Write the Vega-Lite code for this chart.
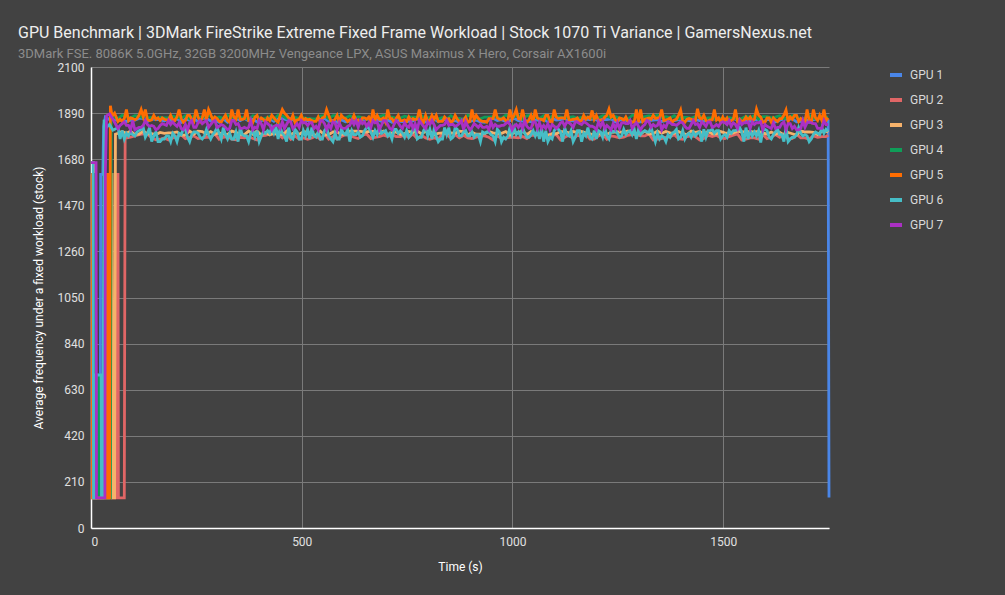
{
"$schema":"https://vega.github.io/schema/vega-lite/v6.json",
"width":738,"height":461,
"autosize":{"type":"none"},
"padding":{"left":91,"top":67,"right":176,"bottom":67},
"background":"#424242",
"title":{"text":"GPU Benchmark | 3DMark FireStrike Extreme Fixed Frame Workload | Stock 1070 Ti Variance | GamersNexus.net","subtitle":"3DMark FSE. 8086K 5.0GHz, 32GB 3200MHz Vengeance LPX, ASUS Maximus X Hero, Corsair AX1600i","anchor":"start","frame":"group","dx":-73,"offset":0,"font":"Roboto","fontSize":16,"fontWeight":"normal","color":"#eeeeee","subtitleFont":"Roboto","subtitleFontSize":13,"subtitleColor":"#8c8c8c","subtitlePadding":7},
"config":{"view":{"stroke":null},"font":"Roboto"},
"data":{"values":[
{"t":0,"g1":1611,"g2":1611,"g3":1664,"g4":1611,"g5":1611,"g6":1664,"g7":1664},
{"t":2,"g2":1611},
{"t":3,"g2":137,"g5":1611},
{"t":4,"g1":1611,"g5":137},
{"t":5,"g1":137,"g6":1664},
{"t":6,"g3":1664,"g6":137},
{"t":7,"g3":137},
{"t":9,"g4":1611},
{"t":10,"g4":697},
{"t":11,"g6":137},
{"t":12,"g6":697,"g7":1664},
{"t":13,"g7":137},
{"t":18,"g4":697},
{"t":19,"g4":137},
{"t":22,"g1":137},
{"t":23,"g1":1611},
{"t":24,"g6":697},
{"t":25,"g6":137},
{"t":28,"g1":1611,"g6":137},
{"t":30,"g1":1830},
{"t":31,"g6":1860},
{"t":33,"g7":137},
{"t":34,"g1":1872,"g7":1611},
{"t":36,"g5":137,"g6":1824},
{"t":37,"g5":1611,"g7":1878},
{"t":40,"g5":1611},
{"t":41,"g5":137},
{"t":42,"g3":137},
{"t":43,"g3":1611},
{"t":44,"g1":1860,"g5":137,"g6":1838,"g7":1886},
{"t":46,"g4":137,"g5":1924},
{"t":48,"g4":1892},
{"t":50,"g3":1611,"g5":1876},
{"t":51,"g3":137},
{"t":52,"g1":1866,"g4":1874,"g6":1812,"g7":1862},
{"t":56,"g3":137,"g5":1890},
{"t":58,"g3":1794},
{"t":60,"g2":137},
{"t":61,"g2":1611},
{"t":65,"g2":137},
{"t":79,"g2":137},
{"t":81,"g2":1782},
{"t":64,"g1":1856,"g2":1611,"g3":1798,"g4":1864,"g5":1852,"g6":1824,"g7":1820},
{"t":69,"g5":1862,"g6":1772,"g7":1834},
{"t":74,"g1":1858,"g2":137,"g3":1806,"g4":1880,"g5":1852,"g6":1810,"g7":1842},
{"t":79,"g5":1865,"g6":1772,"g7":1850},
{"t":84,"g1":1852,"g2":1777,"g3":1798,"g4":1874,"g5":1906,"g6":1798,"g7":1834},
{"t":89,"g5":1856,"g6":1786,"g7":1834},
{"t":94,"g1":1858,"g2":1780,"g3":1808,"g4":1868,"g5":1868,"g6":1804,"g7":1814},
{"t":99,"g5":1865,"g6":1792,"g7":1856},
{"t":104,"g1":1858,"g2":1786,"g3":1792,"g4":1878,"g5":1859,"g6":1786,"g7":1814},
{"t":109,"g5":1865,"g6":1804,"g7":1820},
{"t":114,"g1":1866,"g2":1792,"g3":1794,"g4":1876,"g5":1880,"g6":1810,"g7":1825},
{"t":119,"g5":1906,"g6":1816,"g7":1825},
{"t":124,"g1":1866,"g2":1795,"g3":1808,"g4":1868,"g5":1872,"g6":1824,"g7":1834},
{"t":129,"g5":1906,"g6":1780,"g7":1856},
{"t":134,"g1":1852,"g2":1795,"g3":1796,"g4":1868,"g5":1859,"g6":1798,"g7":1838},
{"t":139,"g5":1856,"g6":1824,"g7":1830},
{"t":144,"g1":1864,"g2":1777,"g3":1796,"g4":1870,"g5":1859,"g6":1760,"g7":1834},
{"t":149,"g5":1880,"g6":1786,"g7":1830},
{"t":154,"g1":1860,"g2":1768,"g3":1792,"g4":1866,"g5":1862,"g6":1804,"g7":1814},
{"t":159,"g5":1868,"g6":1760,"g7":1820},
{"t":164,"g1":1860,"g2":1771,"g3":1802,"g4":1870,"g5":1856,"g6":1760,"g7":1834},
{"t":169,"g5":1868,"g6":1772,"g7":1842},
{"t":174,"g1":1854,"g2":1777,"g3":1798,"g4":1868,"g5":1862,"g6":1772,"g7":1838},
{"t":179,"g5":1859,"g6":1786,"g7":1834},
{"t":184,"g1":1864,"g2":1768,"g3":1800,"g4":1868,"g5":1859,"g6":1786,"g7":1856},
{"t":189,"g5":1880,"g6":1760,"g7":1838},
{"t":194,"g1":1852,"g2":1777,"g3":1800,"g4":1876,"g5":1859,"g6":1798,"g7":1850},
{"t":199,"g5":1856,"g6":1786,"g7":1838},
{"t":204,"g1":1866,"g2":1783,"g3":1804,"g4":1872,"g5":1872,"g6":1760,"g7":1830},
{"t":209,"g5":1906,"g6":1798,"g7":1846},
{"t":214,"g1":1848,"g2":1792,"g3":1790,"g4":1866,"g5":1865,"g6":1792,"g7":1820},
{"t":219,"g5":1848,"g6":1816,"g7":1814},
{"t":224,"g1":1864,"g2":1774,"g3":1790,"g4":1878,"g5":1856,"g6":1816,"g7":1838},
{"t":229,"g5":1880,"g6":1780,"g7":1814},
{"t":234,"g1":1856,"g2":1780,"g3":1808,"g4":1864,"g5":1880,"g6":1760,"g7":1846},
{"t":239,"g5":1862,"g6":1792,"g7":1856},
{"t":244,"g1":1866,"g2":1786,"g3":1794,"g4":1876,"g5":1852,"g6":1804,"g7":1825},
{"t":249,"g5":1906,"g6":1804,"g7":1825},
{"t":254,"g1":1850,"g2":1774,"g3":1808,"g4":1874,"g5":1872,"g6":1798,"g7":1846},
{"t":259,"g5":1852,"g6":1780,"g7":1856},
{"t":264,"g1":1866,"g2":1777,"g3":1806,"g4":1868,"g5":1868,"g6":1772,"g7":1842},
{"t":269,"g5":1906,"g6":1786,"g7":1850},
{"t":274,"g1":1866,"g2":1780,"g3":1794,"g4":1880,"g5":1859,"g6":1816,"g7":1856},
{"t":279,"g5":1906,"g6":1792,"g7":1825},
{"t":284,"g1":1854,"g2":1780,"g3":1806,"g4":1876,"g5":1884,"g6":1772,"g7":1838},
{"t":289,"g5":1859,"g6":1792,"g7":1850},
{"t":294,"g1":1858,"g2":1795,"g3":1794,"g4":1864,"g5":1872,"g6":1804,"g7":1856},
{"t":299,"g5":1865,"g6":1824,"g7":1825},
{"t":304,"g1":1848,"g2":1771,"g3":1800,"g4":1872,"g5":1852,"g6":1798,"g7":1830},
{"t":309,"g5":1848,"g6":1772,"g7":1838},
{"t":314,"g1":1864,"g2":1780,"g3":1794,"g4":1866,"g5":1865,"g6":1824,"g7":1834},
{"t":319,"g5":1880,"g6":1792,"g7":1825},
{"t":324,"g1":1848,"g2":1783,"g3":1792,"g4":1880,"g5":1856,"g6":1772,"g7":1814},
{"t":329,"g5":1848,"g6":1798,"g7":1820},
{"t":334,"g1":1862,"g2":1771,"g3":1808,"g4":1870,"g5":1906,"g6":1772,"g7":1856},
{"t":339,"g5":1872,"g6":1772,"g7":1856},
{"t":344,"g1":1866,"g2":1768,"g3":1802,"g4":1870,"g5":1862,"g6":1804,"g7":1838},
{"t":349,"g5":1906,"g6":1760,"g7":1842},
{"t":354,"g1":1856,"g2":1780,"g3":1792,"g4":1872,"g5":1862,"g6":1824,"g7":1820},
{"t":359,"g5":1862,"g6":1792,"g7":1820},
{"t":364,"g1":1866,"g2":1777,"g3":1792,"g4":1866,"g5":1865,"g6":1786,"g7":1825},
{"t":369,"g5":1906,"g6":1786,"g7":1820},
{"t":374,"g1":1854,"g2":1783,"g3":1808,"g4":1862,"g5":1856,"g6":1760,"g7":1825},
{"t":379,"g5":1859,"g6":1798,"g7":1856},
{"t":384,"g1":1862,"g2":1774,"g3":1794,"g4":1878,"g5":1848,"g6":1810,"g7":1814},
{"t":389,"g5":1872,"g6":1780,"g7":1825},
{"t":394,"g1":1850,"g2":1768,"g3":1808,"g4":1874,"g5":1880,"g6":1810,"g7":1820},
{"t":399,"g5":1852,"g6":1760,"g7":1856},
{"t":404,"g1":1856,"g2":1786,"g3":1790,"g4":1862,"g5":1868,"g6":1786,"g7":1842},
{"t":409,"g5":1862,"g6":1804,"g7":1814},
{"t":414,"g1":1860,"g2":1789,"g3":1802,"g4":1866,"g5":1848,"g6":1798,"g7":1850},
{"t":419,"g5":1868,"g6":1810,"g7":1842},
{"t":424,"g1":1864,"g2":1795,"g3":1790,"g4":1874,"g5":1856,"g6":1798,"g7":1834},
{"t":429,"g5":1880,"g6":1824,"g7":1814},
{"t":434,"g1":1852,"g2":1795,"g3":1798,"g4":1862,"g5":1868,"g6":1798,"g7":1830},
{"t":439,"g5":1856,"g6":1824,"g7":1834},
{"t":444,"g1":1864,"g2":1795,"g3":1792,"g4":1880,"g5":1848,"g6":1772,"g7":1834},
{"t":449,"g5":1880,"g6":1824,"g7":1820},
{"t":454,"g1":1866,"g2":1777,"g3":1792,"g4":1878,"g5":1906,"g6":1798,"g7":1850},
{"t":459,"g5":1890,"g6":1786,"g7":1820},
{"t":464,"g1":1860,"g2":1795,"g3":1808,"g4":1866,"g5":1880,"g6":1760,"g7":1838},
{"t":469,"g5":1868,"g6":1824,"g7":1856},
{"t":474,"g1":1864,"g2":1771,"g3":1792,"g4":1862,"g5":1856,"g6":1780,"g7":1850},
{"t":479,"g5":1880,"g6":1772,"g7":1820},
{"t":484,"g1":1854,"g2":1786,"g3":1802,"g4":1870,"g5":1848,"g6":1816,"g7":1830},
{"t":489,"g5":1859,"g6":1804,"g7":1842},
{"t":494,"g1":1864,"g2":1771,"g3":1794,"g4":1866,"g5":1862,"g6":1772,"g7":1825},
{"t":499,"g5":1880,"g6":1772,"g7":1856},
{"t":504,"g1":1858,"g2":1777,"g3":1804,"g4":1868,"g5":1856,"g6":1810,"g7":1846},
{"t":509,"g5":1865,"g6":1786,"g7":1846},
{"t":514,"g1":1856,"g2":1771,"g3":1804,"g4":1866,"g5":1859,"g6":1816,"g7":1834},
{"t":519,"g5":1862,"g6":1772,"g7":1846},
{"t":524,"g1":1850,"g2":1777,"g3":1792,"g4":1864,"g5":1856,"g6":1824,"g7":1846},
{"t":529,"g5":1852,"g6":1786,"g7":1820},
{"t":534,"g1":1862,"g2":1786,"g3":1790,"g4":1862,"g5":1852,"g6":1780,"g7":1830},
{"t":539,"g5":1872,"g6":1804,"g7":1814},
{"t":544,"g1":1860,"g2":1771,"g3":1808,"g4":1876,"g5":1848,"g6":1772,"g7":1856},
{"t":549,"g5":1868,"g6":1772,"g7":1856},
{"t":554,"g1":1866,"g2":1795,"g3":1790,"g4":1878,"g5":1872,"g6":1810,"g7":1842},
{"t":559,"g5":1906,"g6":1824,"g7":1814},
{"t":564,"g1":1852,"g2":1771,"g3":1792,"g4":1864,"g5":1880,"g6":1786,"g7":1838},
{"t":569,"g5":1856,"g6":1772,"g7":1820},
{"t":574,"g1":1856,"g2":1783,"g3":1804,"g4":1878,"g5":1852,"g6":1760,"g7":1850},
{"t":579,"g5":1862,"g6":1798,"g7":1846},
{"t":584,"g1":1848,"g2":1771,"g3":1804,"g4":1878,"g5":1880,"g6":1772,"g7":1814},
{"t":589,"g5":1848,"g6":1772,"g7":1846},
{"t":594,"g1":1860,"g2":1783,"g3":1792,"g4":1872,"g5":1880,"g6":1816,"g7":1825},
{"t":599,"g5":1868,"g6":1798,"g7":1820},
{"t":604,"g1":1850,"g2":1792,"g3":1796,"g4":1868,"g5":1865,"g6":1792,"g7":1820},
{"t":609,"g5":1852,"g6":1816,"g7":1830},
{"t":614,"g1":1852,"g2":1789,"g3":1808,"g4":1878,"g5":1859,"g6":1760,"g7":1834},
{"t":619,"g5":1856,"g6":1810,"g7":1856},
{"t":624,"g1":1852,"g2":1780,"g3":1808,"g4":1868,"g5":1880,"g6":1792,"g7":1838},
{"t":629,"g5":1856,"g6":1792,"g7":1856},
{"t":634,"g1":1848,"g2":1774,"g3":1808,"g4":1874,"g5":1859,"g6":1804,"g7":1825},
{"t":639,"g5":1848,"g6":1780,"g7":1856},
{"t":644,"g1":1860,"g2":1789,"g3":1806,"g4":1870,"g5":1868,"g6":1786,"g7":1842},
{"t":649,"g5":1868,"g6":1810,"g7":1850},
{"t":654,"g1":1862,"g2":1795,"g3":1804,"g4":1862,"g5":1862,"g6":1824,"g7":1830},
{"t":659,"g5":1872,"g6":1824,"g7":1846},
{"t":664,"g1":1866,"g2":1774,"g3":1808,"g4":1868,"g5":1848,"g6":1804,"g7":1825},
{"t":669,"g5":1906,"g6":1780,"g7":1856},
{"t":674,"g1":1864,"g2":1780,"g3":1806,"g4":1870,"g5":1859,"g6":1810,"g7":1846},
{"t":679,"g5":1880,"g6":1792,"g7":1850},
{"t":684,"g1":1856,"g2":1783,"g3":1798,"g4":1874,"g5":1862,"g6":1824,"g7":1814},
{"t":689,"g5":1862,"g6":1798,"g7":1834},
{"t":694,"g1":1848,"g2":1789,"g3":1808,"g4":1880,"g5":1868,"g6":1804,"g7":1856},
{"t":699,"g5":1848,"g6":1810,"g7":1856},
{"t":704,"g1":1858,"g2":1783,"g3":1792,"g4":1872,"g5":1906,"g6":1786,"g7":1838},
{"t":709,"g5":1865,"g6":1798,"g7":1820},
{"t":714,"g1":1848,"g2":1792,"g3":1800,"g4":1872,"g5":1865,"g6":1772,"g7":1814},
{"t":719,"g5":1848,"g6":1816,"g7":1838},
{"t":724,"g1":1864,"g2":1783,"g3":1804,"g4":1866,"g5":1865,"g6":1816,"g7":1856},
{"t":729,"g5":1880,"g6":1798,"g7":1846},
{"t":734,"g1":1852,"g2":1783,"g3":1792,"g4":1868,"g5":1856,"g6":1810,"g7":1830},
{"t":739,"g5":1856,"g6":1798,"g7":1820},
{"t":744,"g1":1850,"g2":1789,"g3":1796,"g4":1876,"g5":1859,"g6":1780,"g7":1846},
{"t":749,"g5":1852,"g6":1810,"g7":1830},
{"t":754,"g1":1852,"g2":1780,"g3":1806,"g4":1872,"g5":1872,"g6":1780,"g7":1825},
{"t":759,"g5":1856,"g6":1792,"g7":1850},
{"t":764,"g1":1854,"g2":1795,"g3":1802,"g4":1872,"g5":1865,"g6":1816,"g7":1820},
{"t":769,"g5":1859,"g6":1824,"g7":1842},
{"t":774,"g1":1866,"g2":1774,"g3":1808,"g4":1870,"g5":1865,"g6":1772,"g7":1814},
{"t":779,"g5":1906,"g6":1780,"g7":1856},
{"t":784,"g1":1848,"g2":1789,"g3":1796,"g4":1878,"g5":1862,"g6":1780,"g7":1842},
{"t":789,"g5":1848,"g6":1810,"g7":1830},
{"t":794,"g1":1850,"g2":1777,"g3":1806,"g4":1866,"g5":1880,"g6":1824,"g7":1820},
{"t":799,"g5":1852,"g6":1786,"g7":1850},
{"t":804,"g1":1864,"g2":1771,"g3":1808,"g4":1870,"g5":1856,"g6":1816,"g7":1838},
{"t":809,"g5":1880,"g6":1772,"g7":1856},
{"t":814,"g1":1864,"g2":1777,"g3":1790,"g4":1864,"g5":1862,"g6":1816,"g7":1838},
{"t":819,"g5":1880,"g6":1786,"g7":1814},
{"t":824,"g1":1850,"g2":1771,"g3":1798,"g4":1864,"g5":1852,"g6":1760,"g7":1825},
{"t":829,"g5":1852,"g6":1772,"g7":1834},
{"t":834,"g1":1862,"g2":1795,"g3":1800,"g4":1870,"g5":1852,"g6":1772,"g7":1834},
{"t":839,"g5":1872,"g6":1824,"g7":1838},
{"t":844,"g1":1858,"g2":1795,"g3":1798,"g4":1862,"g5":1862,"g6":1792,"g7":1856},
{"t":849,"g5":1865,"g6":1824,"g7":1834},
{"t":854,"g1":1852,"g2":1774,"g3":1800,"g4":1878,"g5":1848,"g6":1772,"g7":1838},
{"t":859,"g5":1856,"g6":1780,"g7":1838},
{"t":864,"g1":1856,"g2":1792,"g3":1798,"g4":1864,"g5":1880,"g6":1824,"g7":1830},
{"t":869,"g5":1862,"g6":1816,"g7":1834},
{"t":874,"g1":1848,"g2":1777,"g3":1808,"g4":1866,"g5":1852,"g6":1786,"g7":1842},
{"t":879,"g5":1848,"g6":1786,"g7":1856},
{"t":884,"g1":1862,"g2":1789,"g3":1806,"g4":1862,"g5":1856,"g6":1804,"g7":1814},
{"t":889,"g5":1872,"g6":1810,"g7":1850},
{"t":894,"g1":1850,"g2":1777,"g3":1790,"g4":1880,"g5":1848,"g6":1786,"g7":1830},
{"t":899,"g5":1852,"g6":1786,"g7":1814},
{"t":904,"g1":1854,"g2":1774,"g3":1802,"g4":1878,"g5":1906,"g6":1804,"g7":1825},
{"t":909,"g5":1859,"g6":1780,"g7":1842},
{"t":914,"g1":1858,"g2":1780,"g3":1794,"g4":1866,"g5":1880,"g6":1792,"g7":1834},
{"t":919,"g5":1865,"g6":1792,"g7":1825},
{"t":924,"g1":1850,"g2":1786,"g3":1794,"g4":1864,"g5":1856,"g6":1760,"g7":1838},
{"t":929,"g5":1852,"g6":1804,"g7":1825},
{"t":934,"g1":1848,"g2":1786,"g3":1796,"g4":1872,"g5":1852,"g6":1798,"g7":1825},
{"t":939,"g5":1848,"g6":1804,"g7":1830},
{"t":944,"g1":1858,"g2":1780,"g3":1806,"g4":1872,"g5":1865,"g6":1804,"g7":1814},
{"t":949,"g5":1865,"g6":1792,"g7":1850},
{"t":954,"g1":1866,"g2":1768,"g3":1800,"g4":1874,"g5":1865,"g6":1786,"g7":1825},
{"t":959,"g5":1906,"g6":1760,"g7":1838},
{"t":964,"g1":1856,"g2":1786,"g3":1796,"g4":1870,"g5":1868,"g6":1816,"g7":1830},
{"t":969,"g5":1862,"g6":1804,"g7":1830},
{"t":974,"g1":1860,"g2":1774,"g3":1798,"g4":1866,"g5":1862,"g6":1760,"g7":1834},
{"t":979,"g5":1868,"g6":1780,"g7":1834},
{"t":984,"g1":1852,"g2":1777,"g3":1806,"g4":1880,"g5":1856,"g6":1772,"g7":1842},
{"t":989,"g5":1856,"g6":1786,"g7":1850},
{"t":994,"g1":1856,"g2":1780,"g3":1790,"g4":1878,"g5":1906,"g6":1824,"g7":1838},
{"t":999,"g5":1862,"g6":1792,"g7":1814},
{"t":1004,"g1":1866,"g2":1780,"g3":1800,"g4":1872,"g5":1880,"g6":1824,"g7":1830},
{"t":1009,"g5":1906,"g6":1792,"g7":1838},
{"t":1014,"g1":1856,"g2":1777,"g3":1802,"g4":1880,"g5":1865,"g6":1804,"g7":1825},
{"t":1019,"g5":1862,"g6":1786,"g7":1842},
{"t":1024,"g1":1854,"g2":1783,"g3":1808,"g4":1862,"g5":1906,"g6":1824,"g7":1820},
{"t":1029,"g5":1859,"g6":1798,"g7":1856},
{"t":1034,"g1":1854,"g2":1774,"g3":1792,"g4":1878,"g5":1848,"g6":1780,"g7":1830},
{"t":1039,"g5":1859,"g6":1780,"g7":1820},
{"t":1044,"g1":1850,"g2":1789,"g3":1806,"g4":1880,"g5":1880,"g6":1792,"g7":1820},
{"t":1049,"g5":1852,"g6":1810,"g7":1850},
{"t":1054,"g1":1860,"g2":1789,"g3":1792,"g4":1870,"g5":1906,"g6":1786,"g7":1850},
{"t":1059,"g5":1868,"g6":1810,"g7":1820},
{"t":1064,"g1":1856,"g2":1795,"g3":1792,"g4":1866,"g5":1862,"g6":1772,"g7":1846},
{"t":1069,"g5":1862,"g6":1824,"g7":1820},
{"t":1074,"g1":1864,"g2":1789,"g3":1792,"g4":1878,"g5":1856,"g6":1760,"g7":1834},
{"t":1079,"g5":1880,"g6":1810,"g7":1820},
{"t":1084,"g1":1850,"g2":1774,"g3":1790,"g4":1862,"g5":1880,"g6":1760,"g7":1842},
{"t":1089,"g5":1852,"g6":1780,"g7":1814},
{"t":1094,"g1":1866,"g2":1789,"g3":1796,"g4":1876,"g5":1848,"g6":1772,"g7":1838},
{"t":1099,"g5":1906,"g6":1810,"g7":1830},
{"t":1104,"g1":1858,"g2":1792,"g3":1796,"g4":1874,"g5":1872,"g6":1824,"g7":1820},
{"t":1109,"g5":1865,"g6":1816,"g7":1830},
{"t":1114,"g1":1860,"g2":1768,"g3":1806,"g4":1872,"g5":1868,"g6":1804,"g7":1846},
{"t":1119,"g5":1868,"g6":1760,"g7":1850},
{"t":1124,"g1":1866,"g2":1780,"g3":1806,"g4":1868,"g5":1865,"g6":1824,"g7":1830},
{"t":1129,"g5":1906,"g6":1792,"g7":1850},
{"t":1134,"g1":1854,"g2":1789,"g3":1800,"g4":1870,"g5":1859,"g6":1786,"g7":1846},
{"t":1139,"g5":1859,"g6":1810,"g7":1838},
{"t":1144,"g1":1856,"g2":1774,"g3":1806,"g4":1874,"g5":1862,"g6":1760,"g7":1825},
{"t":1149,"g5":1862,"g6":1780,"g7":1850},
{"t":1154,"g1":1850,"g2":1789,"g3":1802,"g4":1866,"g5":1868,"g6":1810,"g7":1850},
{"t":1159,"g5":1852,"g6":1810,"g7":1842},
{"t":1164,"g1":1864,"g2":1783,"g3":1806,"g4":1870,"g5":1856,"g6":1760,"g7":1838},
{"t":1169,"g5":1880,"g6":1798,"g7":1850},
{"t":1174,"g1":1862,"g2":1795,"g3":1800,"g4":1872,"g5":1862,"g6":1786,"g7":1846},
{"t":1179,"g5":1872,"g6":1824,"g7":1838},
{"t":1184,"g1":1860,"g2":1771,"g3":1796,"g4":1870,"g5":1865,"g6":1780,"g7":1830},
{"t":1189,"g5":1902,"g6":1772,"g7":1830},
{"t":1194,"g1":1864,"g2":1771,"g3":1790,"g4":1866,"g5":1862,"g6":1810,"g7":1825},
{"t":1199,"g5":1880,"g6":1772,"g7":1814},
{"t":1204,"g1":1854,"g2":1786,"g3":1796,"g4":1868,"g5":1856,"g6":1810,"g7":1850},
{"t":1209,"g5":1859,"g6":1804,"g7":1830},
{"t":1214,"g1":1862,"g2":1795,"g3":1792,"g4":1878,"g5":1859,"g6":1780,"g7":1850},
{"t":1219,"g5":1872,"g6":1824,"g7":1820},
{"t":1224,"g1":1860,"g2":1771,"g3":1794,"g4":1876,"g5":1880,"g6":1786,"g7":1834},
{"t":1229,"g5":1908,"g6":1772,"g7":1825},
{"t":1234,"g1":1864,"g2":1786,"g3":1802,"g4":1868,"g5":1872,"g6":1810,"g7":1814},
{"t":1239,"g5":1880,"g6":1804,"g7":1842},
{"t":1244,"g1":1850,"g2":1783,"g3":1804,"g4":1874,"g5":1859,"g6":1810,"g7":1820},
{"t":1249,"g5":1852,"g6":1798,"g7":1846},
{"t":1254,"g1":1858,"g2":1777,"g3":1804,"g4":1866,"g5":1868,"g6":1780,"g7":1820},
{"t":1259,"g5":1865,"g6":1786,"g7":1846},
{"t":1264,"g1":1862,"g2":1780,"g3":1802,"g4":1864,"g5":1856,"g6":1816,"g7":1846},
{"t":1269,"g5":1872,"g6":1792,"g7":1842},
{"t":1274,"g1":1852,"g2":1789,"g3":1808,"g4":1862,"g5":1852,"g6":1804,"g7":1842},
{"t":1279,"g5":1856,"g6":1810,"g7":1856},
{"t":1284,"g1":1850,"g2":1792,"g3":1798,"g4":1880,"g5":1848,"g6":1792,"g7":1820},
{"t":1289,"g5":1852,"g6":1816,"g7":1834},
{"t":1294,"g1":1848,"g2":1792,"g3":1796,"g4":1880,"g5":1906,"g6":1772,"g7":1846},
{"t":1299,"g5":1848,"g6":1816,"g7":1830},
{"t":1304,"g1":1850,"g2":1786,"g3":1796,"g4":1870,"g5":1906,"g6":1792,"g7":1814},
{"t":1309,"g5":1852,"g6":1804,"g7":1830},
{"t":1314,"g1":1858,"g2":1786,"g3":1808,"g4":1874,"g5":1862,"g6":1810,"g7":1838},
{"t":1319,"g5":1865,"g6":1804,"g7":1856},
{"t":1324,"g1":1856,"g2":1795,"g3":1794,"g4":1878,"g5":1868,"g6":1804,"g7":1850},
{"t":1329,"g5":1862,"g6":1824,"g7":1825},
{"t":1334,"g1":1858,"g2":1768,"g3":1796,"g4":1874,"g5":1880,"g6":1792,"g7":1838},
{"t":1339,"g5":1865,"g6":1760,"g7":1830},
{"t":1344,"g1":1860,"g2":1771,"g3":1808,"g4":1880,"g5":1868,"g6":1798,"g7":1834},
{"t":1349,"g5":1868,"g6":1772,"g7":1856},
{"t":1354,"g1":1852,"g2":1774,"g3":1798,"g4":1868,"g5":1906,"g6":1786,"g7":1814},
{"t":1359,"g5":1856,"g6":1780,"g7":1834},
{"t":1364,"g1":1856,"g2":1780,"g3":1806,"g4":1874,"g5":1859,"g6":1760,"g7":1825},
{"t":1369,"g5":1862,"g6":1792,"g7":1850},
{"t":1374,"g1":1848,"g2":1783,"g3":1800,"g4":1868,"g5":1868,"g6":1780,"g7":1846},
{"t":1379,"g5":1848,"g6":1798,"g7":1838},
{"t":1384,"g1":1856,"g2":1792,"g3":1798,"g4":1878,"g5":1859,"g6":1804,"g7":1838},
{"t":1389,"g5":1862,"g6":1816,"g7":1834},
{"t":1394,"g1":1860,"g2":1774,"g3":1806,"g4":1864,"g5":1880,"g6":1772,"g7":1842},
{"t":1399,"g5":1904,"g6":1780,"g7":1850},
{"t":1404,"g1":1848,"g2":1771,"g3":1796,"g4":1870,"g5":1852,"g6":1810,"g7":1846},
{"t":1409,"g5":1848,"g6":1772,"g7":1830},
{"t":1414,"g1":1858,"g2":1783,"g3":1792,"g4":1870,"g5":1862,"g6":1792,"g7":1820},
{"t":1419,"g5":1865,"g6":1798,"g7":1820},
{"t":1424,"g1":1854,"g2":1786,"g3":1808,"g4":1866,"g5":1862,"g6":1780,"g7":1838},
{"t":1429,"g5":1859,"g6":1804,"g7":1856},
{"t":1434,"g1":1860,"g2":1783,"g3":1802,"g4":1874,"g5":1856,"g6":1786,"g7":1838},
{"t":1439,"g5":1910,"g6":1798,"g7":1842},
{"t":1444,"g1":1856,"g2":1768,"g3":1806,"g4":1878,"g5":1868,"g6":1804,"g7":1825},
{"t":1449,"g5":1862,"g6":1760,"g7":1850},
{"t":1454,"g1":1852,"g2":1774,"g3":1796,"g4":1864,"g5":1880,"g6":1816,"g7":1842},
{"t":1459,"g5":1856,"g6":1780,"g7":1830},
{"t":1464,"g1":1854,"g2":1789,"g3":1806,"g4":1868,"g5":1852,"g6":1810,"g7":1850},
{"t":1469,"g5":1859,"g6":1810,"g7":1850},
{"t":1474,"g1":1866,"g2":1783,"g3":1796,"g4":1868,"g5":1859,"g6":1816,"g7":1825},
{"t":1479,"g5":1906,"g6":1798,"g7":1830},
{"t":1484,"g1":1860,"g2":1789,"g3":1796,"g4":1862,"g5":1859,"g6":1810,"g7":1838},
{"t":1489,"g5":1868,"g6":1810,"g7":1830},
{"t":1494,"g1":1862,"g2":1777,"g3":1806,"g4":1866,"g5":1848,"g6":1772,"g7":1846},
{"t":1499,"g5":1872,"g6":1786,"g7":1850},
{"t":1504,"g1":1860,"g2":1774,"g3":1800,"g4":1862,"g5":1856,"g6":1792,"g7":1846},
{"t":1509,"g5":1868,"g6":1780,"g7":1838},
{"t":1514,"g1":1852,"g2":1783,"g3":1796,"g4":1870,"g5":1848,"g6":1810,"g7":1856},
{"t":1519,"g5":1856,"g6":1798,"g7":1830},
{"t":1524,"g1":1866,"g2":1789,"g3":1800,"g4":1864,"g5":1862,"g6":1810,"g7":1846},
{"t":1529,"g5":1906,"g6":1810,"g7":1838},
{"t":1534,"g1":1856,"g2":1795,"g3":1808,"g4":1864,"g5":1852,"g6":1816,"g7":1820},
{"t":1539,"g5":1862,"g6":1824,"g7":1856},
{"t":1544,"g1":1850,"g2":1768,"g3":1804,"g4":1866,"g5":1852,"g6":1804,"g7":1838},
{"t":1549,"g5":1856,"g6":1760,"g7":1846},
{"t":1554,"g1":1854,"g2":1771,"g3":1806,"g4":1876,"g5":1872,"g6":1824,"g7":1846},
{"t":1559,"g5":1859,"g6":1772,"g7":1850},
{"t":1564,"g1":1852,"g2":1777,"g3":1806,"g4":1870,"g5":1872,"g6":1810,"g7":1820},
{"t":1569,"g5":1856,"g6":1786,"g7":1850},
{"t":1574,"g1":1858,"g2":1777,"g3":1804,"g4":1878,"g5":1862,"g6":1804,"g7":1838},
{"t":1579,"g5":1908,"g6":1786,"g7":1846},
{"t":1584,"g1":1862,"g2":1771,"g3":1806,"g4":1862,"g5":1880,"g6":1810,"g7":1846},
{"t":1589,"g5":1872,"g6":1756,"g7":1850},
{"t":1594,"g1":1848,"g2":1792,"g3":1800,"g4":1874,"g5":1848,"g6":1810,"g7":1814},
{"t":1599,"g5":1848,"g6":1816,"g7":1838},
{"t":1604,"g1":1860,"g2":1774,"g3":1794,"g4":1874,"g5":1868,"g6":1810,"g7":1830},
{"t":1609,"g5":1868,"g6":1780,"g7":1825},
{"t":1614,"g1":1860,"g2":1780,"g3":1804,"g4":1868,"g5":1848,"g6":1772,"g7":1820},
{"t":1619,"g5":1868,"g6":1792,"g7":1846},
{"t":1624,"g1":1850,"g2":1792,"g3":1794,"g4":1872,"g5":1859,"g6":1804,"g7":1820},
{"t":1629,"g5":1852,"g6":1816,"g7":1825},
{"t":1634,"g1":1858,"g2":1780,"g3":1802,"g4":1878,"g5":1865,"g6":1792,"g7":1825},
{"t":1639,"g5":1865,"g6":1792,"g7":1842},
{"t":1644,"g1":1864,"g2":1795,"g3":1790,"g4":1864,"g5":1880,"g6":1760,"g7":1850},
{"t":1649,"g5":1904,"g6":1824,"g7":1814},
{"t":1654,"g1":1862,"g2":1771,"g3":1802,"g4":1870,"g5":1852,"g6":1760,"g7":1842},
{"t":1659,"g5":1872,"g6":1772,"g7":1842},
{"t":1664,"g1":1864,"g2":1774,"g3":1796,"g4":1878,"g5":1862,"g6":1780,"g7":1820},
{"t":1669,"g5":1880,"g6":1780,"g7":1830},
{"t":1674,"g1":1850,"g2":1795,"g3":1790,"g4":1872,"g5":1880,"g6":1792,"g7":1814},
{"t":1679,"g5":1852,"g6":1824,"g7":1814},
{"t":1684,"g1":1852,"g2":1777,"g3":1808,"g4":1862,"g5":1865,"g6":1798,"g7":1820},
{"t":1689,"g5":1856,"g6":1786,"g7":1856},
{"t":1694,"g1":1866,"g2":1777,"g3":1804,"g4":1866,"g5":1848,"g6":1792,"g7":1825},
{"t":1699,"g5":1906,"g6":1786,"g7":1846},
{"t":1704,"g1":1848,"g2":1771,"g3":1804,"g4":1880,"g5":1856,"g6":1760,"g7":1850},
{"t":1709,"g5":1848,"g6":1772,"g7":1846},
{"t":1714,"g1":1860,"g2":1786,"g3":1802,"g4":1866,"g5":1906,"g6":1792,"g7":1842},
{"t":1719,"g5":1868,"g6":1804,"g7":1842},
{"t":1724,"g1":1864,"g2":1780,"g3":1792,"g4":1866,"g5":1856,"g6":1798,"g7":1820},
{"t":1729,"g5":1880,"g6":1792,"g7":1820},
{"t":1734,"g1":1866,"g2":1783,"g3":1808,"g4":1866,"g5":1856,"g6":1824,"g7":1820},
{"t":1739,"g5":1906,"g6":1798,"g7":1856},
{"t":1744,"g1":1858,"g2":1783,"g3":1808,"g4":1870,"g5":1856,"g6":1816,"g7":1838},
{"t":1749,"g1":1856,"g2":1790,"g3":1802,"g4":1872,"g5":1868,"g6":1806,"g7":1838},
{"t":1751,"g1":139}
]},
"transform":[
{"fold":["g1","g2","g3","g4","g5","g6","g7"],"as":["gpu","v"]},
{"filter":"isValid(datum.v)"}
],
"mark":{"type":"line","strokeWidth":2.8,"interpolate":"linear"},
"encoding":{
"x":{"field":"t","type":"quantitative","scale":{"domain":[0,1751],"nice":false,"zero":false},
"axis":{"title":"Time (s)","values":[0,500,1000,1500],"format":"d","grid":true,"gridColor":"#7a7a7a","gridWidth":1,"domainColor":"#ffffff","domainWidth":1.5,"ticks":false,"labelPadding":8,"labelColor":"#e0e0e0","labelFont":"Roboto","labelFontSize":12,"titleColor":"#ffffff","titleFont":"Roboto","titleFontSize":12,"titleFontWeight":"normal","titlePadding":14}},
"y":{"field":"v","type":"quantitative","scale":{"domain":[0,2100],"nice":false},
"axis":{"title":"Average frequency under a fixed workload (stock)","values":[0,210,420,630,840,1050,1260,1470,1680,1890,2100],"format":"d","grid":true,"gridColor":"#7a7a7a","gridWidth":1,"domainColor":"#ffffff","domainWidth":1.5,"ticks":false,"labelPadding":7,"labelColor":"#e0e0e0","labelFont":"Roboto","labelFontSize":12,"titleColor":"#ffffff","titleFont":"Roboto","titleFontSize":12,"titleFontWeight":"normal","titlePadding":12}},
"color":{"field":"gpu","type":"nominal","scale":{"domain":["g1","g2","g3","g4","g5","g6","g7"],"range":["#4a86e8","#e06666","#f6b26b","#0f9d58","#ff6d01","#46bdc6","#ab30c4"]},
"legend":{"title":null,"orient":"none","legendX":797,"legendY":0,"symbolType":"stroke","symbolStrokeWidth":4,"symbolSize":144,"labelExpr":"'GPU ' + substring(datum.label, 1)","labelColor":"#d9d9d9","labelFont":"Roboto","labelFontSize":12,"labelOffset":6,"rowPadding":9}}
}
}
